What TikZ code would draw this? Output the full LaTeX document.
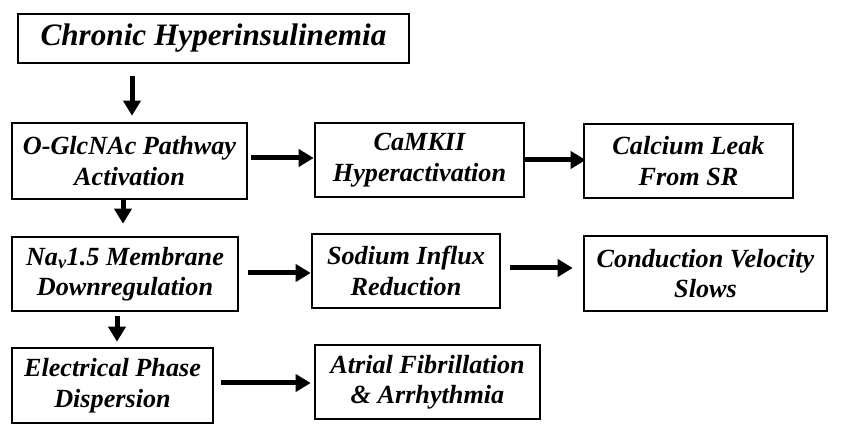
\documentclass[tikz,border=0pt]{standalone}
\usepackage{fontspec}
\setmainfont{Liberation Serif}
\usetikzlibrary{arrows.meta,calc}
\begin{document}
\begin{tikzpicture}[x=1pt,y=-1pt,
  box/.style={draw=black, line width=2.6pt, align=center, inner sep=0pt,
    font=\fontsize{26.2}{30.5}\selectfont\bfseries\itshape},
  arr/.style={line width=5pt, -{Triangle[length=15pt,width=17pt]}}]
\useasboundingbox (0,0) rectangle (841,435);
\node[box, minimum width=391pt, minimum height=49pt, font=\fontsize{31.2}{34}\selectfont\bfseries\itshape] (title) at (213.5,38.5) {Chronic Hyperinsulinemia};
\node[box, minimum width=235pt, minimum height=76pt] (ogl) at (129.5,161) {O-GlcNAc Pathway\\Activation};
\node[box, minimum width=209pt, minimum height=74pt] (camk) at (419.5,160) {CaMKII\\Hyperactivation};
\node[box, minimum width=209pt, minimum height=74pt] (calc) at (688.5,161) {Calcium Leak\\From SR};
\node[box, minimum width=226pt, minimum height=74pt] (nav) at (125,274) {Na\textsubscript{v}1.5 Membrane\\Downregulation};
\node[box, minimum width=188pt, minimum height=74pt] (sod) at (406,271) {Sodium Influx\\Reduction};
\node[box, minimum width=243pt, minimum height=75pt] (cond) at (705.5,273.5) {Conduction Velocity\\Slows};
\node[box, minimum width=201pt, minimum height=75pt] (elec) at (112.5,385.5) {Electrical Phase\\Dispersion};
\node[box, minimum width=225pt, minimum height=74pt] (atr) at (427.5,382) {Atrial Fibrillation\\\&{} Arrhythmia};
% vertical arrows
\draw[arr, shorten <=12pt, shorten >=6pt] ([xshift=2.5pt]ogl.north |- title.south) -- ([xshift=2.5pt]ogl.north);
\draw[arr, shorten >=12pt] ([xshift=-6.5pt]ogl.south) -- ([xshift=-6.5pt]ogl.south |- nav.north);
\draw[arr, shorten <=4pt, shorten >=5pt] ([xshift=-8pt]nav.south) -- ([xshift=-8pt]nav.south |- elec.north);
% horizontal arrows
\draw[arr, shorten <=3pt] ([yshift=3pt]ogl.east) -- ([yshift=3pt]ogl.east -| camk.west);
\draw[arr, shorten >=-3pt] (camk.east) -- (camk.east -| calc.west);
\draw[arr, shorten <=9pt] ([yshift=1pt]nav.east) -- ([yshift=1pt]nav.east -| sod.west);
\draw[arr, shorten <=9pt, shorten >=10pt] ([yshift=3pt]sod.east) -- ([yshift=3pt]sod.east -| cond.west);
\draw[arr, shorten <=7pt, shorten >=3pt] ([yshift=2.5pt]elec.east) -- ([yshift=2.5pt]elec.east -| atr.west);
\end{tikzpicture}
\end{document}
